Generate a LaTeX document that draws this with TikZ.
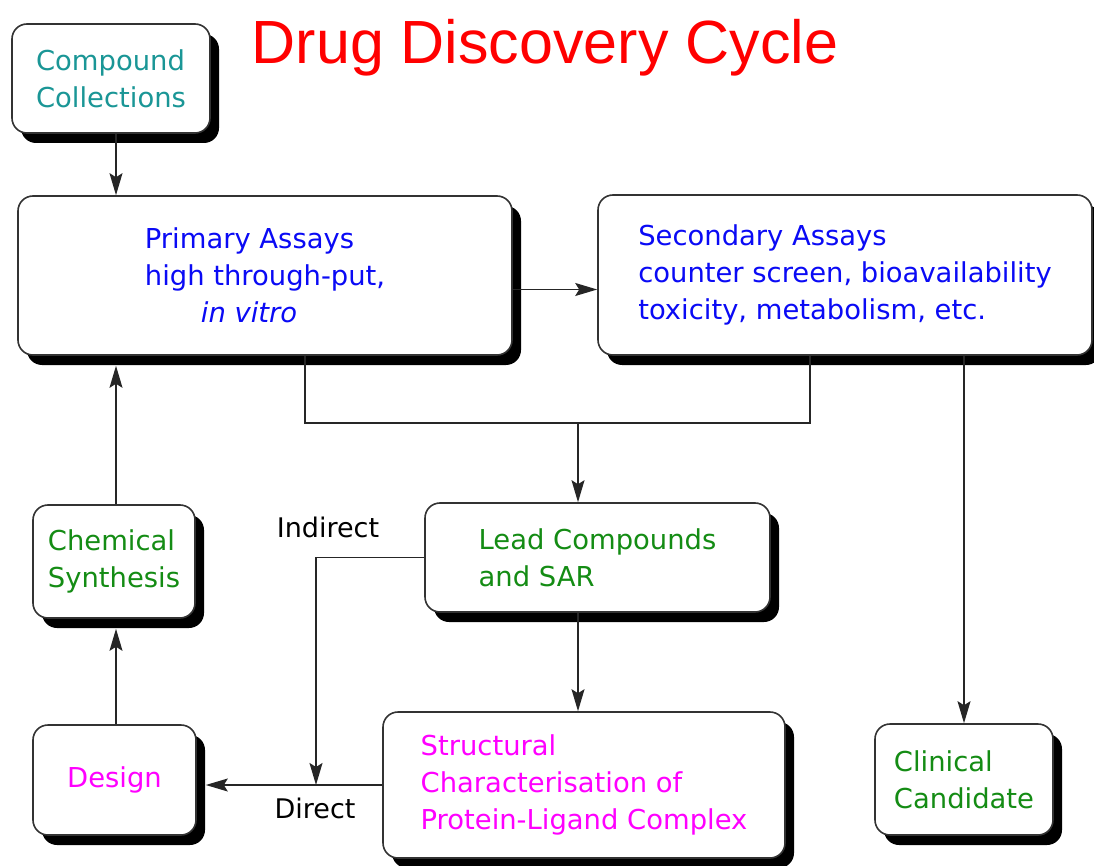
\documentclass[tikz,border=0pt]{standalone}
\usepackage{fontspec}
\setmainfont{DejaVu Sans}
\newfontfamily\titlefont{Liberation Sans}
\usetikzlibrary{arrows.meta,calc,shadows}
\definecolor{tealtxt}{RGB}{26,150,150}
\definecolor{greentxt}{RGB}{20,140,20}
\definecolor{bluetxt}{RGB}{10,10,245}
\definecolor{pinktxt}{RGB}{255,0,255}

\begin{document}
\begin{tikzpicture}[x=1pt, y=-1pt,
  box/.style={draw=black!80, line width=1.6pt, rounded corners=15pt, fill=white,
    align=left, inner sep=0pt, font=\fontsize{27.4}{37}\selectfont,
    drop shadow={shadow xshift=9pt, shadow yshift=-10pt, fill=black, opacity=1}},
  lbl/.style={font=\fontsize{27}{37}\selectfont},
  link/.style={draw=black!85, line width=1.5pt},
  arr/.style={-{Stealth[length=22pt,width=13pt,inset=4pt]}}]
  \useasboundingbox (0,0) rectangle (1094,866);
  \node (title) [anchor=base, text=red, font=\titlefont\fontsize{61}{70}\selectfont] at (545,64) {Drug Discovery Cycle};
  \node (comp) [box, text=tealtxt, minimum width=198pt, minimum height=109pt] at (111,78.5) {Compound\\Collections};
  \node (prim) [box, text=bluetxt, minimum width=494pt, minimum height=159pt] at (265,275.5) {Primary Assays\\high through-put,\\\hspace*{56pt}\textit{in vitro}};
  \node (sec) [box, text=bluetxt, minimum width=494pt, minimum height=160pt] at (845,275) {Secondary Assays\\counter screen, bioavailability\\toxicity, metabolism, etc.};
  \node (chem) [box, text=greentxt, minimum width=162pt, minimum height=113pt] at (114,561.5) {Chemical\\Synthesis};
  \node (lead) [box, text=greentxt, minimum width=345pt, minimum height=109pt] at (597.5,557.5) {Lead Compounds\\and SAR};
  \node (design) [box, text=pinktxt, minimum width=163pt, minimum height=110pt] at (114.5,780) {Design};
  \node (struct) [box, text=pinktxt, minimum width=402pt, minimum height=146pt] at (584,785) {Structural\\Characterisation of\\Protein-Ligand Complex};
  \node (clin) [box, text=greentxt, minimum width=178pt, minimum height=111pt] at (964,779.5) {Clinical\\Candidate};
  \node (indirect) [lbl] at (328,527) {Indirect};
  \node (direct) [lbl] at (315,808) {Direct};
  \coordinate (join) at (578,423);
  \coordinate (split) at (316,785);
  \draw[link, arr] ($(comp.south)+(5,0)$) -- ($(comp.south |- prim.north)+(5,0)$);
  \draw[link, arr] ($(prim.east)+(0,14)$) -- ($(sec.west |- prim.east)+(0,14)$);
  \draw[link] ($(prim.south)+(40,0)$) |- (join) -| ($(sec.south)+(-35,0)$);
  \draw[link, arr] (join) -- (join |- lead.north);
  \draw[link, arr] (clin.north |- sec.south) -- (clin.north);
  \draw[link, arr] ($(chem.north)+(2,0)$) -- ($(chem.north |- prim.south)+(2,10)$);
  \draw[link, arr] ($(design.north)+(1.5,0)$) -- ($(design.north |- chem.south)+(1.5,10)$);
  \draw[link, arr] (join |- lead.south) -- (join |- struct.north);
  \draw[link, arr] (lead.west) -| (split);
  \draw[link, arr] (struct.west) -- ($(design.east |- struct.west)+(9,0)$);
\end{tikzpicture}
\end{document}
